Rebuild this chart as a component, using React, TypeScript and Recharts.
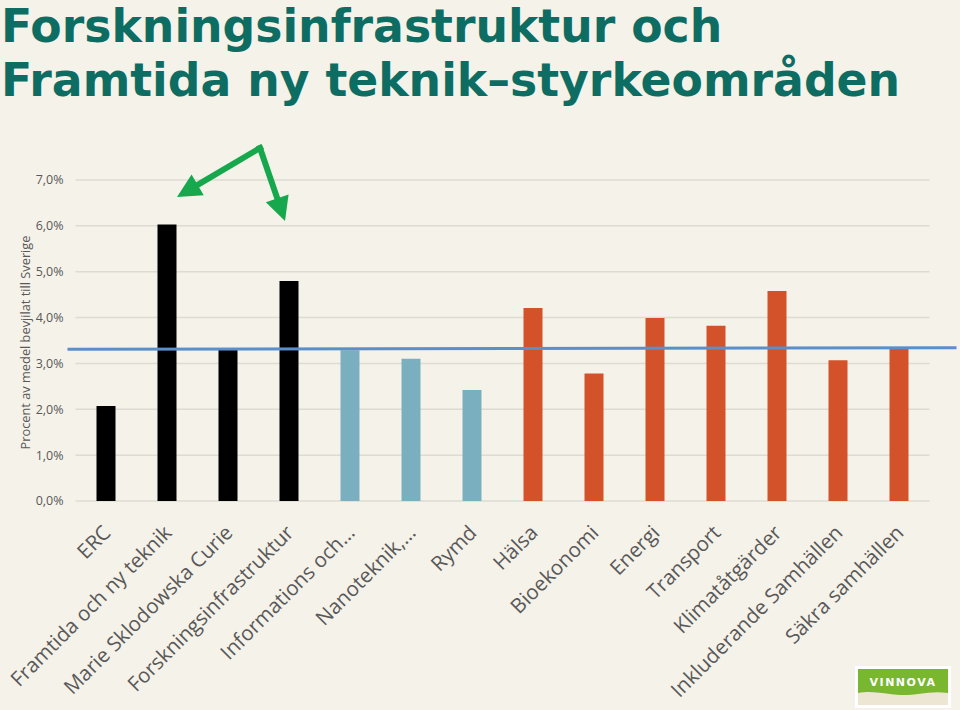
import { BarChart, Bar, XAxis, YAxis, CartesianGrid, ReferenceLine, Cell, Label } from 'recharts';

// Andel av medel beviljat till Sverige, per programdel (procent)
const categories = [
  'ERC',
  'Framtida och ny teknik',
  'Marie Sklodowska Curie',
  'Forskningsinfrastruktur',
  'Informations och…',
  'Nanoteknik,…',
  'Rymd',
  'Hälsa',
  'Bioekonomi',
  'Energi',
  'Transport',
  'Klimatåtgärder',
  'Inkluderande Samhällen',
  'Säkra samhällen',
];
const shares = [2.07, 6.03, 3.31, 4.8, 3.29, 3.1, 2.42, 4.21, 2.78, 3.99, 3.82, 4.58, 3.07, 3.35];
const pillars = [
  'excellens', 'excellens', 'excellens', 'excellens',
  'industri', 'industri', 'industri',
  'samhalle', 'samhalle', 'samhalle', 'samhalle', 'samhalle', 'samhalle', 'samhalle',
];
const yTicks = [0, 1, 2, 3, 4, 5, 6, 7];
const averageShare = 3.32;

const pillarColors: Record<string, string> = {
  excellens: '#000000',
  industri: '#7AAFC0',
  samhalle: '#D4522A',
};

const BG = '#F5F2E9';
const FONT = '"Open Sans", sans-serif';

const data = categories.map((name, i) => ({ name, value: shares[i], pillar: pillars[i] }));

const fmtPct = (v: number) => `${v.toFixed(1).replace('.', ',')}%`;

function SlantTick({ x, y, payload }: any) {
  const px = x + 6;
  const py = y + 33;
  return (
    <text
      x={px}
      y={py}
      transform={`rotate(-45, ${px}, ${py})`}
      textAnchor="end"
      fontSize={20.5}
      fontFamily={FONT}
      fill="#595959"
    >
      {payload.value}
    </text>
  );
}

// average line runs a bit past the plot area on both sides
function AverageLine({ x1, y1, x2 }: any) {
  return <line x1={x1 - 8} y1={y1 + 0.5} x2={x2 + 27} y2={y1 - 1} stroke="#5A8FCB" strokeWidth={3} />;
}

function arrow(sx: number, sy: number, tx: number, ty: number) {
  const len = Math.hypot(tx - sx, ty - sy);
  const dx = (tx - sx) / len;
  const dy = (ty - sy) / len;
  const L = 24;
  const W = 12;
  const bx = tx - dx * L;
  const by = ty - dy * L;
  const nx = -dy;
  const ny = dx;
  return (
    <g>
      <line x1={sx} y1={sy} x2={bx} y2={by} stroke="#17A84D" strokeWidth={6} strokeLinecap="square" />
      <polygon
        points={`${tx},${ty} ${bx + nx * W},${by + ny * W} ${bx - nx * W},${by - ny * W}`}
        fill="#17A84D"
      />
    </g>
  );
}

export default function App() {
  return (
    <div style={{ position: 'absolute', left: 0, top: 0, width: 960, height: 710, background: BG, overflow: 'hidden' }}>
      <div
        style={{
          position: 'absolute',
          left: 1,
          top: 0,
          fontFamily: '"DejaVu Sans", sans-serif',
          fontWeight: 700,
          fontSize: 45.7,
          lineHeight: '54px',
          color: '#0E6D62',
          whiteSpace: 'nowrap',
        }}
      >
        <div>Forskningsinfrastruktur och</div>
        <div>Framtida ny teknik–styrkeområden</div>
      </div>

      <div style={{ position: 'absolute', left: 0, top: 0 }}>
        <BarChart width={960} height={710} data={data} margin={{ top: 180, right: 30.5, bottom: 0, left: 0 }}>
          <CartesianGrid vertical={false} stroke="#DEDBD2" strokeWidth={1.5} />
          <XAxis
            dataKey="name"
            interval={0}
            height={209}
            tickSize={0}
            tickMargin={0}
            axisLine={false}
            tickLine={false}
            tick={<SlantTick />}
          />
          <YAxis
            width={75.5}
            domain={[0, 7]}
            ticks={yTicks}
            tickFormatter={fmtPct}
            axisLine={false}
            tickLine={false}
            tickSize={0}
            tickMargin={12}
            tick={{ fontSize: 12.5, fontFamily: FONT, fill: '#595959' }}
          >
            <Label
              content={({ viewBox }: any) => {
                const cy = viewBox.y + viewBox.height / 2 + 2;
                return (
                  <text
                    x={25}
                    y={cy}
                    transform={`rotate(-90, 25, ${cy})`}
                    textAnchor="middle"
                    dominantBaseline="central"
                    fontSize={12.8}
                    fontFamily={FONT}
                    fill="#595959"
                  >
                    Procent av medel bevjilat till Sverige
                  </text>
                );
              }}
            />
          </YAxis>
          <Bar dataKey="value" barSize={19} isAnimationActive={false}>
            {data.map((d, i) => (
              <Cell key={`c-${i}`} fill={pillarColors[d.pillar]} />
            ))}
          </Bar>
          <ReferenceLine y={averageShare} ifOverflow="visible" shape={<AverageLine />} />
        </BarChart>
      </div>

      {/* gröna pilar */}
      <svg width={960} height={710} style={{ position: 'absolute', left: 0, top: 0, pointerEvents: 'none' }}>
        {arrow(260, 148, 177, 197)}
        {arrow(260, 148, 285, 221)}
      </svg>

      {/* Vinnova-logga */}
      <svg width={96} height={42} style={{ position: 'absolute', left: 855, top: 666 }}>
        <rect x={0} y={0} width={96} height={42} fill="#FFFFFF" />
        <rect x={3} y={3} width={90} height={36} fill="#EDE6D2" />
        <path d="M3 3 H93 V27 C75 24 60 30 45 29 C30 28 18 24 3 27 Z" fill="#79B72F" />
        <text
          x={48}
          y={20}
          textAnchor="middle"
          fontSize={11}
          fontWeight={600}
          fontFamily='"DejaVu Sans", sans-serif'
          letterSpacing={1.5}
          fill="#FFFFFF"
        >
          VINNOVA
        </text>
      </svg>
    </div>
  );
}
